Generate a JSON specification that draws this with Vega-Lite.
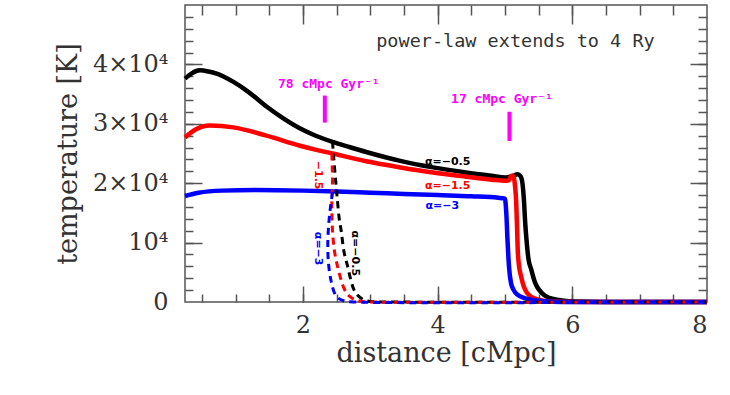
{
  "$schema": "https://vega.github.io/schema/vega-lite/v6.json",
  "width": 522,
  "height": 297,
  "autosize": "none",
  "padding": {"left": 185, "top": 5, "right": 23, "bottom": 93},
  "background": "white",
  "config": {
    "view": {"stroke": "#555", "strokeWidth": 1.5},
    "axis": {
      "labelFont": "DejaVu Serif", "labelFontSize": 24, "labelColor": "#333",
      "titleFont": "DejaVu Serif", "titleFontSize": 27, "titleColor": "#333", "titleFontWeight": "normal",
      "tickColor": "#555", "tickWidth": 1.5, "domain": false, "grid": false
    }
  },
  "datasets": {
    "solid": [
      {"a":"-0.5","i":0,"x":0.25,"T":37600},{"a":"-0.5","i":1,"x":0.35,"T":38500},{"a":"-0.5","i":2,"x":0.47,"T":39000},{"a":"-0.5","i":3,"x":0.6,"T":38800},{"a":"-0.5","i":4,"x":0.72,"T":38450},{"a":"-0.5","i":5,"x":0.97,"T":37050},{"a":"-0.5","i":6,"x":1.2,"T":35300},{"a":"-0.5","i":7,"x":1.46,"T":32900},{"a":"-0.5","i":8,"x":1.71,"T":30900},{"a":"-0.5","i":9,"x":1.96,"T":29200},{"a":"-0.5","i":10,"x":2.2,"T":27950},{"a":"-0.5","i":11,"x":2.44,"T":26950},{"a":"-0.5","i":12,"x":2.7,"T":26050},{"a":"-0.5","i":13,"x":2.94,"T":25250},{"a":"-0.5","i":14,"x":3.43,"T":23800},{"a":"-0.5","i":15,"x":3.93,"T":22660},{"a":"-0.5","i":16,"x":4.42,"T":21810},{"a":"-0.5","i":17,"x":4.8,"T":21250},{"a":"-0.5","i":18,"x":5.01,"T":20960},{"a":"-0.5","i":19,"x":5.1,"T":21150},{"a":"-0.5","i":20,"x":5.19,"T":21500},{"a":"-0.5","i":21,"x":5.23,"T":21200},{"a":"-0.5","i":22,"x":5.26,"T":20000},{"a":"-0.5","i":23,"x":5.28,"T":17500},{"a":"-0.5","i":24,"x":5.3,"T":13500},{"a":"-0.5","i":25,"x":5.32,"T":10500},{"a":"-0.5","i":26,"x":5.35,"T":7200},{"a":"-0.5","i":27,"x":5.39,"T":5500},{"a":"-0.5","i":28,"x":5.44,"T":3500},{"a":"-0.5","i":29,"x":5.48,"T":2500},{"a":"-0.5","i":30,"x":5.55,"T":1500},{"a":"-0.5","i":31,"x":5.62,"T":900},{"a":"-0.5","i":32,"x":5.72,"T":500},{"a":"-0.5","i":33,"x":5.85,"T":250},{"a":"-0.5","i":34,"x":6.05,"T":80},{"a":"-0.5","i":35,"x":6.5,"T":10},{"a":"-0.5","i":36,"x":8,"T":0},
      {"a":"-1.5","i":0,"x":0.25,"T":27700},{"a":"-1.5","i":1,"x":0.4,"T":29000},{"a":"-1.5","i":2,"x":0.62,"T":29700},{"a":"-1.5","i":3,"x":0.97,"T":29400},{"a":"-1.5","i":4,"x":1.46,"T":28000},{"a":"-1.5","i":5,"x":1.96,"T":26300},{"a":"-1.5","i":6,"x":2.2,"T":25600},{"a":"-1.5","i":7,"x":2.44,"T":25000},{"a":"-1.5","i":8,"x":2.94,"T":23700},{"a":"-1.5","i":9,"x":3.43,"T":22700},{"a":"-1.5","i":10,"x":3.93,"T":21800},{"a":"-1.5","i":11,"x":4.42,"T":21100},{"a":"-1.5","i":12,"x":4.8,"T":20600},{"a":"-1.5","i":13,"x":5.02,"T":20400},{"a":"-1.5","i":14,"x":5.06,"T":20500},{"a":"-1.5","i":15,"x":5.08,"T":21000},{"a":"-1.5","i":16,"x":5.11,"T":21300},{"a":"-1.5","i":17,"x":5.13,"T":21000},{"a":"-1.5","i":18,"x":5.15,"T":19500},{"a":"-1.5","i":19,"x":5.165,"T":17300},{"a":"-1.5","i":20,"x":5.18,"T":12500},{"a":"-1.5","i":21,"x":5.19,"T":8800},{"a":"-1.5","i":22,"x":5.21,"T":6000},{"a":"-1.5","i":23,"x":5.24,"T":4300},{"a":"-1.5","i":24,"x":5.28,"T":2600},{"a":"-1.5","i":25,"x":5.33,"T":1500},{"a":"-1.5","i":26,"x":5.4,"T":800},{"a":"-1.5","i":27,"x":5.48,"T":450},{"a":"-1.5","i":28,"x":5.6,"T":150},{"a":"-1.5","i":29,"x":5.8,"T":40},{"a":"-1.5","i":30,"x":6.2,"T":5},{"a":"-1.5","i":31,"x":8,"T":0},
      {"a":"-3","i":0,"x":0.25,"T":17850},{"a":"-3","i":1,"x":0.45,"T":18400},{"a":"-3","i":2,"x":0.8,"T":18750},{"a":"-3","i":3,"x":1.3,"T":18850},{"a":"-3","i":4,"x":2.0,"T":18750},{"a":"-3","i":5,"x":2.5,"T":18600},{"a":"-3","i":6,"x":3.0,"T":18400},{"a":"-3","i":7,"x":3.5,"T":18200},{"a":"-3","i":8,"x":4.0,"T":18000},{"a":"-3","i":9,"x":4.5,"T":17800},{"a":"-3","i":10,"x":4.9,"T":17550},{"a":"-3","i":11,"x":5.0,"T":17400},{"a":"-3","i":12,"x":5.02,"T":15000},{"a":"-3","i":13,"x":5.04,"T":10000},{"a":"-3","i":14,"x":5.06,"T":6000},{"a":"-3","i":15,"x":5.09,"T":3200},{"a":"-3","i":16,"x":5.13,"T":2000},{"a":"-3","i":17,"x":5.19,"T":1200},{"a":"-3","i":18,"x":5.28,"T":700},{"a":"-3","i":19,"x":5.39,"T":400},{"a":"-3","i":20,"x":5.5,"T":200},{"a":"-3","i":21,"x":5.7,"T":60},{"a":"-3","i":22,"x":6.0,"T":10},{"a":"-3","i":23,"x":8,"T":0}
    ],
    "dashed": [
      {"a":"-0.5","i":0,"x":2.44,"T":27000},{"a":"-0.5","i":1,"x":2.46,"T":24000},{"a":"-0.5","i":2,"x":2.49,"T":20000},{"a":"-0.5","i":3,"x":2.51,"T":17500},{"a":"-0.5","i":4,"x":2.54,"T":14000},{"a":"-0.5","i":5,"x":2.57,"T":11900},{"a":"-0.5","i":6,"x":2.61,"T":8500},{"a":"-0.5","i":7,"x":2.66,"T":6200},{"a":"-0.5","i":8,"x":2.71,"T":3800},{"a":"-0.5","i":9,"x":2.75,"T":2300},{"a":"-0.5","i":10,"x":2.8,"T":1300},{"a":"-0.5","i":11,"x":2.87,"T":600},{"a":"-0.5","i":12,"x":2.95,"T":200},{"a":"-0.5","i":13,"x":3.05,"T":30},{"a":"-0.5","i":14,"x":3.15,"T":0},{"a":"-0.5","i":15,"x":8,"T":0},
      {"a":"-1.5","i":0,"x":2.43,"T":25000},{"a":"-1.5","i":1,"x":2.44,"T":20000},{"a":"-1.5","i":2,"x":2.43,"T":16500},{"a":"-1.5","i":3,"x":2.44,"T":12000},{"a":"-1.5","i":4,"x":2.47,"T":8500},{"a":"-1.5","i":5,"x":2.51,"T":6200},{"a":"-1.5","i":6,"x":2.56,"T":4000},{"a":"-1.5","i":7,"x":2.6,"T":2600},{"a":"-1.5","i":8,"x":2.65,"T":1500},{"a":"-1.5","i":9,"x":2.7,"T":900},{"a":"-1.5","i":10,"x":2.78,"T":350},{"a":"-1.5","i":11,"x":2.9,"T":50},{"a":"-1.5","i":12,"x":3.0,"T":0},{"a":"-1.5","i":13,"x":8,"T":0},
      {"a":"-3","i":0,"x":2.44,"T":18500},{"a":"-3","i":1,"x":2.41,"T":16000},{"a":"-3","i":2,"x":2.38,"T":12500},{"a":"-3","i":3,"x":2.37,"T":9000},{"a":"-3","i":4,"x":2.385,"T":6000},{"a":"-3","i":5,"x":2.42,"T":3500},{"a":"-3","i":6,"x":2.47,"T":1500},{"a":"-3","i":7,"x":2.53,"T":600},{"a":"-3","i":8,"x":2.62,"T":150},{"a":"-3","i":9,"x":2.75,"T":0},{"a":"-3","i":10,"x":8,"T":0}
    ],
    "bars": [{"x":2.326,"y1":30200,"y2":34750},{"x":5.067,"y1":27100,"y2":32030}],
    "mlabels": [{"x":2.385,"T":36780,"text":"78 cMpc Gyr⁻¹"},{"x":4.956,"T":34240,"text":"17 cMpc Gyr⁻¹"}],
    "slabels": [{"a":"-0.5","x":4.15,"T":23560,"text":"α=−0.5"},{"a":"-1.5","x":4.15,"T":19490,"text":"α=−1.5"},{"a":"-3","x":4.07,"T":16100,"text":"α=−3"}],
    "dlabels": [{"a":"-3","x":2.22,"T":8980,"text":"α=−3"},{"a":"-0.5","x":2.77,"T":8200,"text":"α=−0.5"},{"a":"-1.5","x":2.22,"T":21360,"text":"−1.5"}],
    "note": [{"x":5.156,"T":43900,"text":"power-law extends to 4 Ry"}]
  },
  "resolve": {"axis": {"x": "independent", "y": "independent"}},
  "layer": [
    {
      "data": {"name": "solid"},
      "mark": {"type": "line", "strokeWidth": 4.5, "interpolate": "monotone"},
      "encoding": {
        "x": {"field": "x", "type": "quantitative", "scale": {"domain": [0.25, 8], "nice": false, "zero": false},
              "axis": {"orient": "bottom", "values": [2, 4, 6, 8], "ticks": false, "labelPadding": 11, "title": "distance [cMpc]", "titlePadding": 3}},
        "y": {"field": "T", "type": "quantitative", "scale": {"domain": [0, 50000], "nice": false},
              "axis": {"orient": "left", "values": [0, 10000, 20000, 30000, 40000], "ticks": false, "labelPadding": 17, "title": "temperature [K]", "titlePadding": 10,
                       "labelExpr": "datum.value == 0 ? '0' : datum.value == 10000 ? '10⁴' : format(datum.value / 10000, 'd') + '×10⁴'"}},
        "color": {"field": "a", "type": "nominal", "scale": {"domain": ["-0.5", "-1.5", "-3"], "range": ["#000000", "#ff0000", "#0000ff"]}, "legend": null},
        "order": {"field": "i", "type": "quantitative"}
      }
    },
    {
      "data": {"name": "dashed"},
      "mark": {"type": "line", "strokeWidth": 3, "strokeDash": [7, 5], "interpolate": "catmull-rom"},
      "encoding": {
        "x": {"field": "x", "type": "quantitative",
              "axis": {"orient": "bottom", "offset": -8, "tickSize": 8, "labels": false, "title": null,
                       "values": [0.5,1,1.5,2,2.5,3,3.5,4,4.5,5,5.5,6,6.5,7,7.5]}},
        "y": {"field": "T", "type": "quantitative",
              "axis": {"orient": "left", "offset": -8, "tickSize": 8, "labels": false, "title": null,
                       "values": [2000,4000,6000,8000,10000,12000,14000,16000,18000,20000,22000,24000,26000,28000,30000,32000,34000,36000,38000,40000,42000,44000,46000,48000]}},
        "color": {"field": "a", "type": "nominal", "legend": null},
        "order": {"field": "i", "type": "quantitative"}
      }
    },
    {
      "data": {"name": "bars"},
      "mark": {"type": "rule", "strokeWidth": 4, "color": "#ff00ff"},
      "encoding": {
        "x": {"field": "x", "type": "quantitative",
              "axis": {"orient": "bottom", "offset": -16, "tickSize": 16, "labels": false, "title": null, "values": [2, 4, 6]}},
        "y": {"field": "y1", "type": "quantitative",
              "axis": {"orient": "left", "offset": -17, "tickSize": 17, "labels": false, "title": null, "values": [10000, 20000, 30000, 40000]}},
        "y2": {"field": "y2"}
      }
    },
    {
      "data": {"name": "mlabels"},
      "mark": {"type": "text", "font": "DejaVu Sans Mono", "fontWeight": "bold", "fontSize": 13, "color": "#ff00ff"},
      "encoding": {
        "x": {"field": "x", "type": "quantitative",
              "axis": {"orient": "top", "offset": -10, "tickSize": 10, "labels": false, "title": null,
                       "values": [0.5,1,1.5,2,2.5,3,3.5,4,4.5,5,5.5,6,6.5,7,7.5]}},
        "y": {"field": "T", "type": "quantitative",
              "axis": {"orient": "right", "offset": -9, "tickSize": 9, "labels": false, "title": null,
                       "values": [2000,4000,6000,8000,10000,12000,14000,16000,18000,20000,22000,24000,26000,28000,30000,32000,34000,36000,38000,40000,42000,44000,46000,48000]}},
        "text": {"field": "text"}
      }
    },
    {
      "data": {"name": "slabels"},
      "mark": {"type": "text", "font": "DejaVu Sans", "fontWeight": "bold", "fontSize": 11},
      "encoding": {
        "x": {"field": "x", "type": "quantitative",
              "axis": {"orient": "top", "offset": -19, "tickSize": 19, "labels": false, "title": null, "values": [2, 4, 6]}},
        "y": {"field": "T", "type": "quantitative",
              "axis": {"orient": "right", "offset": -17, "tickSize": 17, "labels": false, "title": null, "values": [10000, 20000, 30000, 40000]}},
        "color": {"field": "a", "type": "nominal", "legend": null},
        "text": {"field": "text"}
      }
    },
    {
      "data": {"name": "dlabels"},
      "mark": {"type": "text", "font": "DejaVu Sans", "fontWeight": "bold", "fontSize": 11, "angle": 90},
      "encoding": {
        "x": {"field": "x", "type": "quantitative", "axis": null},
        "y": {"field": "T", "type": "quantitative", "axis": null},
        "color": {"field": "a", "type": "nominal", "legend": null},
        "text": {"field": "text"}
      }
    },
    {
      "data": {"name": "note"},
      "mark": {"type": "text", "font": "DejaVu Sans Mono", "fontSize": 18.5, "color": "#333"},
      "encoding": {
        "x": {"field": "x", "type": "quantitative", "axis": null},
        "y": {"field": "T", "type": "quantitative", "axis": null},
        "text": {"field": "text"}
      }
    }
  ]
}
